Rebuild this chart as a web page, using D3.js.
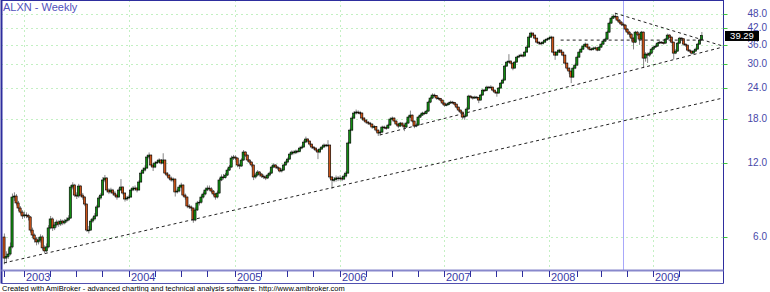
<!DOCTYPE html>
<html>
<head>
<meta charset="UTF-8">
<title>ALXN - Weekly</title>
<script src="https://d3js.org/d3.v7.min.js"></script>
<style>
  body {margin:0; background:#fff;}
  text {font-family: Arial, "Liberation Sans", sans-serif;}
</style>
</head>
<body>
<div id="chart"></div>
<script>
// weekly bars, Oct 2002 .. Jun 2009
var firstOpen = 6.00;
var closes = [
  4.93, 5.00, 5.12, 5.47, 8.71, 8.79, 8.24, 7.86, 7.57, 7.30,
  7.37, 7.33, 7.23, 6.40, 6.11, 5.89, 5.73, 5.83, 6.00, 5.42,
  5.27, 5.47, 6.53, 7.10, 6.53, 6.71, 6.90, 6.77, 6.96, 6.84,
  6.96, 7.03, 7.16, 9.56, 9.74, 8.87, 8.79, 9.65, 8.87, 8.71,
  8.16, 6.40, 6.40, 6.96, 7.10, 7.30, 7.94, 8.63, 8.87, 10.21,
  10.40, 9.30, 9.13, 9.30, 9.04, 8.87, 8.71, 9.30, 9.56, 9.04,
  8.55, 8.63, 8.71, 9.30, 9.47, 9.47, 9.30, 10.02, 10.89, 11.20,
  11.41, 12.65, 12.88, 11.74, 11.52, 11.96, 12.07, 12.30, 11.96, 12.30,
  10.89, 10.69, 10.40, 10.21, 10.30, 9.13, 9.21, 9.56, 9.74, 8.87,
  8.71, 8.01, 7.94, 7.86, 7.03, 7.72, 8.24, 8.30, 8.71, 8.96,
  9.30, 9.47, 9.40, 9.21, 8.96, 8.71, 9.04, 10.21, 10.50, 10.45,
  10.69, 11.20, 11.52, 12.53, 12.65, 12.53, 11.74, 11.63, 12.30, 13.25,
  12.88, 12.30, 12.07, 11.74, 10.50, 10.69, 11.00, 10.79, 10.59, 10.50,
  10.40, 10.69, 10.89, 11.52, 11.74, 11.52, 11.41, 11.10, 11.20, 11.74,
  12.07, 12.41, 13.00, 13.25, 13.15, 13.37, 13.30, 13.75, 13.88, 14.54,
  14.96, 14.68, 14.27, 13.88, 13.75, 13.50, 13.25, 13.62, 13.88, 14.14,
  14.05, 14.14, 10.50, 10.21, 10.25, 10.40, 10.35, 10.40, 10.30, 10.59,
  10.89, 14.41, 16.26, 18.19, 19.06, 19.24, 19.15, 19.06, 18.19, 17.85,
  17.52, 17.36, 17.20, 16.73, 16.80, 16.26, 15.82, 15.96, 16.73, 16.65,
  16.57, 17.04, 18.02, 18.19, 17.69, 17.20, 16.88, 17.36, 17.04, 16.73,
  17.36, 18.36, 18.70, 17.69, 16.88, 17.04, 18.36, 18.70, 19.06, 19.00,
  19.41, 21.11, 21.92, 22.54, 22.45, 21.92, 21.85, 21.51, 20.92, 20.53,
  20.60, 20.92, 21.11, 21.05, 20.72, 20.15, 19.60, 19.24, 18.36, 18.53,
  19.78, 22.33, 22.12, 21.92, 22.12, 22.05, 21.51, 22.54, 23.61, 23.50,
  24.28, 24.20, 24.28, 23.61, 23.18, 22.96, 24.06, 25.20, 25.92, 29.53,
  30.65, 30.94, 30.37, 28.98, 30.65, 32.11, 32.42, 32.72, 32.42, 33.65,
  35.25, 38.70, 40.17, 39.43, 38.34, 36.93, 36.59, 36.40, 36.93, 37.63,
  37.98, 38.34, 38.70, 33.65, 32.72, 33.65, 34.28, 33.65, 32.72, 30.37,
  28.98, 28.19, 26.65, 28.98, 29.81, 32.11, 33.65, 34.60, 35.58, 36.25,
  35.25, 34.60, 34.50, 34.92, 35.00, 34.28, 35.25, 36.25, 37.28, 37.98,
  40.54, 44.09, 46.19, 47.06, 46.80, 45.34, 44.50, 43.68, 43.28, 41.69,
  40.54, 39.79, 38.34, 36.93, 40.54, 39.79, 37.98, 40.54, 31.82, 33.03,
  32.72, 33.33, 34.60, 35.25, 35.58, 36.59, 36.93, 36.80, 36.59, 37.98,
  39.43, 38.70, 36.93, 33.33, 33.96, 36.59, 38.34, 38.10, 36.25, 35.92,
  34.28, 33.96, 33.33, 33.96, 34.60, 36.25, 37.63, 39.29
];
var highs = [
  6.20, 5.25, 5.40, 5.70, 9.00, 9.10, 8.95, 8.40, 8.00, 7.70,
  7.60, 7.55, 7.45, 7.30, 6.55, 6.20, 6.00, 6.00, 6.15, 6.10,
  5.55, 5.65, 6.70, 7.30, 7.20, 6.90, 7.05, 7.00, 7.10, 7.05,
  7.10, 7.20, 7.35, 9.75, 10.00, 9.85, 9.10, 9.85, 9.75, 9.05,
  8.80, 8.20, 6.65, 7.10, 7.25, 7.50, 8.10, 8.80, 9.05, 10.50,
  10.70, 10.50, 9.45, 9.50, 9.40, 9.20, 9.00, 9.50, 10.30, 9.65,
  9.10, 8.80, 8.90, 9.45, 9.65, 9.70, 9.55, 10.20, 11.10, 11.45,
  11.70, 12.90, 13.20, 12.95, 11.90, 12.15, 12.30, 12.50, 12.40, 13.10,
  12.35, 11.00, 10.80, 10.55, 10.45, 10.35, 9.40, 9.75, 9.95, 9.80,
  9.00, 8.75, 8.15, 8.05, 7.90, 7.90, 8.40, 8.45, 8.90, 9.15,
  9.50, 9.70, 9.70, 9.55, 9.30, 9.05, 9.25, 10.40, 10.75, 10.80,
  10.90, 11.40, 11.75, 12.80, 12.90, 12.85, 12.60, 11.90, 12.50, 13.50,
  13.35, 12.95, 12.40, 12.15, 11.80, 10.90, 11.20, 11.10, 10.90, 10.75,
  10.65, 10.85, 11.05, 11.70, 11.95, 11.85, 11.65, 11.50, 11.40, 11.90,
  12.25, 12.60, 13.20, 13.45, 13.45, 13.55, 13.55, 13.95, 14.10, 14.80,
  15.30, 15.10, 14.75, 14.35, 14.00, 13.85, 13.60, 13.80, 14.05, 14.35,
  14.30, 14.80, 14.20, 10.60, 10.50, 10.65, 10.60, 10.65, 10.55, 10.80,
  11.10, 14.60, 16.50, 18.50, 19.40, 19.70, 19.55, 19.45, 19.15, 18.35,
  18.00, 17.70, 17.55, 17.30, 17.05, 16.90, 16.35, 16.20, 16.95, 16.95,
  16.85, 17.25, 18.30, 18.45, 18.30, 17.80, 17.30, 17.55, 17.45, 17.10,
  17.60, 18.60, 19.50, 18.80, 17.75, 17.30, 18.55, 18.95, 19.30, 19.30,
  19.65, 21.40, 22.20, 22.90, 22.85, 22.55, 22.20, 21.95, 21.60, 21.05,
  20.85, 21.15, 21.40, 21.35, 21.15, 20.80, 20.25, 19.70, 19.30, 18.85,
  20.10, 22.60, 22.50, 22.30, 22.40, 22.35, 22.15, 22.80, 23.90, 23.90,
  24.60, 24.55, 24.70, 24.40, 23.70, 23.25, 24.30, 25.50, 26.30, 29.90,
  31.00, 33.00, 31.20, 30.50, 31.00, 32.50, 32.90, 33.20, 33.00, 34.10,
  35.80, 39.30, 40.70, 40.40, 39.60, 38.50, 37.20, 37.00, 37.30, 38.00,
  38.40, 38.80, 39.20, 38.90, 33.90, 34.00, 34.70, 34.50, 33.80, 32.90,
  30.50, 29.20, 28.30, 29.40, 30.30, 32.60, 34.10, 35.10, 36.10, 36.80,
  36.40, 35.50, 35.00, 35.40, 35.50, 35.20, 35.70, 36.70, 37.80, 38.50,
  41.10, 44.70, 46.80, 47.80, 48.40, 47.20, 45.80, 44.90, 44.30, 43.60,
  42.00, 41.00, 40.10, 38.60, 41.00, 41.00, 40.10, 41.00, 40.80, 33.60,
  33.50, 33.80, 35.00, 35.70, 36.10, 37.00, 37.40, 37.30, 37.10, 38.40,
  40.00, 39.80, 39.00, 37.10, 34.60, 37.00, 38.80, 38.70, 38.30, 36.50,
  36.10, 34.60, 34.20, 34.40, 35.10, 36.70, 38.10, 40.60
];
var lows = [
  4.65, 4.70, 4.90, 5.05, 5.40, 8.40, 8.05, 7.65, 7.40, 7.10,
  7.15, 7.15, 7.00, 6.25, 5.95, 5.70, 5.55, 5.60, 5.70, 5.30,
  5.15, 5.20, 5.40, 6.45, 6.35, 6.40, 6.55, 6.60, 6.65, 6.70,
  6.75, 6.85, 6.95, 7.10, 9.35, 8.70, 8.55, 8.65, 8.70, 8.50,
  8.00, 6.30, 6.20, 6.35, 6.85, 7.00, 7.25, 7.85, 8.50, 8.80,
  10.00, 9.10, 8.95, 9.00, 8.85, 8.70, 8.50, 8.65, 9.20, 8.90,
  8.35, 8.40, 8.50, 8.65, 9.20, 9.25, 9.10, 9.25, 9.95, 10.80,
  11.05, 11.35, 12.40, 11.55, 11.10, 11.40, 11.85, 11.95, 11.80, 11.85,
  10.75, 10.50, 10.25, 10.05, 10.00, 8.75, 9.00, 9.10, 9.45, 8.70,
  8.50, 7.85, 7.80, 7.65, 6.85, 6.95, 7.65, 8.05, 8.20, 8.60,
  8.85, 9.20, 9.25, 9.05, 8.80, 8.50, 8.60, 9.00, 10.10, 10.25,
  10.35, 10.60, 11.10, 11.45, 12.30, 12.30, 11.50, 11.30, 11.55, 12.20,
  12.65, 12.10, 11.85, 11.50, 10.20, 10.35, 10.55, 10.55, 10.40, 10.30,
  10.20, 10.30, 10.55, 10.80, 11.40, 11.35, 11.20, 10.95, 10.95, 11.10,
  11.65, 11.95, 12.30, 12.85, 12.95, 13.00, 13.10, 13.20, 13.60, 13.80,
  14.40, 14.45, 14.00, 13.65, 13.50, 13.30, 12.40, 13.10, 13.50, 13.75,
  13.85, 13.90, 10.30, 9.40, 10.00, 10.05, 10.10, 10.15, 10.10, 10.20,
  10.45, 10.80, 14.30, 16.10, 18.00, 18.80, 18.85, 18.70, 17.90, 17.55,
  17.25, 17.05, 16.95, 16.45, 16.50, 16.00, 15.40, 15.50, 15.85, 16.40,
  16.30, 16.45, 16.95, 17.85, 17.45, 16.95, 16.55, 16.75, 16.80, 16.10,
  16.60, 17.25, 18.20, 17.45, 16.55, 16.70, 16.95, 18.20, 18.55, 18.75,
  18.85, 19.30, 20.90, 21.70, 22.10, 21.60, 21.55, 21.20, 20.60, 20.20,
  20.30, 20.45, 20.75, 20.75, 20.40, 19.85, 19.30, 18.90, 18.00, 17.90,
  18.40, 19.70, 21.85, 21.60, 21.75, 21.75, 20.90, 21.40, 22.40, 23.20,
  23.35, 23.90, 23.95, 23.30, 22.85, 22.20, 22.85, 23.95, 25.00, 25.80,
  29.30, 30.30, 30.00, 28.40, 28.85, 30.50, 31.80, 32.20, 32.00, 32.30,
  33.50, 35.10, 38.40, 38.90, 37.80, 36.40, 35.90, 35.90, 36.10, 36.70,
  37.40, 37.70, 38.10, 33.20, 31.30, 32.50, 33.40, 33.20, 32.30, 29.90,
  28.40, 27.40, 25.20, 26.50, 28.70, 29.60, 31.90, 33.40, 34.30, 35.30,
  34.90, 34.20, 34.10, 34.20, 34.60, 33.90, 34.00, 35.00, 36.00, 37.00,
  37.80, 40.30, 43.80, 45.80, 46.00, 44.80, 43.70, 42.90, 42.50, 40.80,
  39.60, 38.80, 37.20, 34.50, 36.60, 39.10, 36.00, 37.70, 29.00, 30.80,
  30.40, 32.20, 33.00, 34.30, 35.00, 35.30, 36.30, 36.30, 36.10, 36.40,
  37.70, 38.20, 36.50, 31.50, 33.00, 33.70, 36.30, 37.60, 35.70, 35.30,
  33.80, 33.40, 32.90, 33.10, 33.70, 34.40, 36.00, 37.40
];

var yTicks = [6, 12, 18, 24, 30, 36, 42, 48];
var yearStarts = [10, 62, 115, 167, 219, 271, 323];
var yearLabels = ["2003", "2004", "2005", "2006", "2007", "2008", "2009"];
var quarterTicks = [0, 10, 23, 36, 49, 62, 75, 88, 101, 115, 128, 141, 154, 167, 180, 193, 206, 219, 232, 245, 258, 271, 285, 297, 310, 323, 336];
var selectedBar = 308;
var lastPrice = 39.29;

// trend lines: [bar index, price] pairs
var lineLong = [[0, 4.71], [357.7, 21.92]];
var lineSupport = [[187, 15.53], [357.7, 35.27]];
var lineTop = [[304, 48.4], [357.7, 35.6]];
var lineFlat = [[277, 37.63], [347, 37.63]];

var W = 770, H = 292;
var plotL = 1.5, plotR = 723.5, plotT = 0.5, plotB = 270;

var svg = d3.select("#chart").append("svg")
    .attr("width", W)
    .attr("height", H);

var x = d3.scaleLinear()
    .domain([0, closes.length - 1])
    .range([3.9, 3.9 + 2.01 * (closes.length - 1)]);

var y = d3.scaleLog()
    .domain([6, 48])
    .range([237, 14]);

svg.append("defs").append("clipPath").attr("id", "plotclip")
    .append("rect")
    .attr("x", plotL).attr("y", plotT)
    .attr("width", plotR - plotL).attr("height", plotB - plotT);

// grid
var grid = svg.append("g");
grid.selectAll(".hg").data(yTicks).enter().append("line")
    .attr("x1", plotL).attr("x2", plotR)
    .attr("y1", function(d) {return Math.round(y(d)) + 0.5})
    .attr("y2", function(d) {return Math.round(y(d)) + 0.5})
    .attr("stroke", "#86e086")
    .attr("stroke-dasharray", "1,4");
grid.selectAll(".vg").data(yearStarts).enter().append("line")
    .attr("x1", function(d) {return Math.round(x(d)) + 0.5})
    .attr("x2", function(d) {return Math.round(x(d)) + 0.5})
    .attr("y1", plotT).attr("y2", plotB)
    .attr("stroke", "#86e086")
    .attr("stroke-dasharray", "1,4");

// selected bar line
svg.append("line")
    .attr("x1", Math.round(x(selectedBar)) + 0.5)
    .attr("x2", Math.round(x(selectedBar)) + 0.5)
    .attr("y1", plotT).attr("y2", plotB)
    .attr("stroke", "#a8a8fa");

var plot = svg.append("g").attr("clip-path", "url(#plotclip)");

var bars = closes.map(function(c, i) {
    return {i: i, o: i == 0 ? firstOpen : closes[i - 1], c: c, h: highs[i], l: lows[i]};
});

// wicks
plot.selectAll(".wick").data(bars).enter().append("line")
    .attr("x1", function(d) {return x(d.i) + 0.5})
    .attr("x2", function(d) {return x(d.i) + 0.5})
    .attr("y1", function(d) {return y(d.h)})
    .attr("y2", function(d) {return y(d.l)})
    .attr("stroke", "#858585")
    .attr("stroke-width", 1);

// bodies
plot.selectAll(".body").data(bars).enter().append("rect")
    .attr("x", function(d) {return x(d.i) - 1})
    .attr("width", 2.2)
    .attr("y", function(d) {return y(Math.max(d.o, d.c))})
    .attr("height", function(d) {return Math.max(0.8, Math.abs(y(d.o) - y(d.c)))})
    .attr("fill", function(d) {return d.c >= d.o ? "#128c12" : "#cc5418"})
    .attr("stroke", "#000")
    .attr("stroke-width", 0.6);

// trend lines
[lineLong, lineSupport, lineTop, lineFlat].forEach(function(ln) {
    plot.append("line")
        .attr("x1", x(ln[0][0])).attr("y1", y(ln[0][1]))
        .attr("x2", x(ln[1][0])).attr("y2", y(ln[1][1]))
        .attr("stroke", "#222")
        .attr("stroke-width", 1)
        .attr("stroke-dasharray", "3,3");
});

// frame
svg.append("line").attr("x1", plotL).attr("x2", plotL).attr("y1", 0).attr("y2", 283.5)
    .attr("stroke", "#2e2e9e").attr("stroke-width", 2);
svg.append("line").attr("x1", plotL).attr("x2", plotR).attr("y1", plotT).attr("y2", plotT)
    .attr("stroke", "#2e2e9e");
svg.append("line").attr("x1", plotR).attr("x2", plotR).attr("y1", 0).attr("y2", 283.5)
    .attr("stroke", "#2e2e9e");
svg.append("line").attr("x1", plotL).attr("x2", plotR).attr("y1", plotB + 0.5).attr("y2", plotB + 0.5)
    .attr("stroke", "#8888cc").attr("stroke-width", 2);
svg.append("line").attr("x1", plotL).attr("x2", plotR).attr("y1", 283.5).attr("y2", 283.5)
    .attr("stroke", "#5050b0");

// date axis
svg.selectAll(".qt").data(quarterTicks).enter().append("line")
    .attr("x1", function(d) {return Math.round(x(d)) + 0.5})
    .attr("x2", function(d) {return Math.round(x(d)) + 0.5})
    .attr("y1", 271).attr("y2", 277)
    .attr("stroke", "#2e2e9e");
svg.selectAll(".yl").data(yearStarts).enter().append("text")
    .attr("x", function(d) {return Math.round(x(d)) + 2})
    .attr("y", 281)
    .attr("font-size", "11px")
    .attr("fill", "#3838a8")
    .text(function(d, i) {return yearLabels[i]});

// price axis
svg.selectAll(".ytk").data(yTicks).enter().append("line")
    .attr("x1", plotR).attr("x2", plotR + 4)
    .attr("y1", function(d) {return Math.round(y(d)) + 0.5})
    .attr("y2", function(d) {return Math.round(y(d)) + 0.5})
    .attr("stroke", "#3ec83e");
svg.selectAll(".ylab").data(yTicks).enter().append("text")
    .attr("x", 767)
    .attr("y", function(d) {return y(d) + 3})
    .attr("text-anchor", "end")
    .attr("font-size", "10px")
    .attr("fill", "#4848a8")
    .text(function(d) {return d.toFixed(1)});

// last price marker
svg.append("rect")
    .attr("x", 725).attr("y", y(lastPrice) - 4.5)
    .attr("width", 34).attr("height", 10)
    .attr("fill", "#000");
svg.append("text")
    .attr("x", 742).attr("y", y(lastPrice) + 3.8)
    .attr("text-anchor", "middle")
    .attr("font-size", "9.5px")
    .attr("fill", "#fff")
    .text(lastPrice.toFixed(2));

// title and footer
svg.append("text")
    .attr("x", 3).attr("y", 11)
    .attr("font-size", "11px")
    .attr("fill", "#5252bc")
    .text("ALXN - Weekly");
svg.append("text")
    .attr("x", 2).attr("y", 290.5)
    .attr("font-size", "7.5px")
    .attr("fill", "#000")
    .text("Created with AmiBroker - advanced charting and technical analysis software. http://www.amibroker.com");
</script>
</body>
</html>
